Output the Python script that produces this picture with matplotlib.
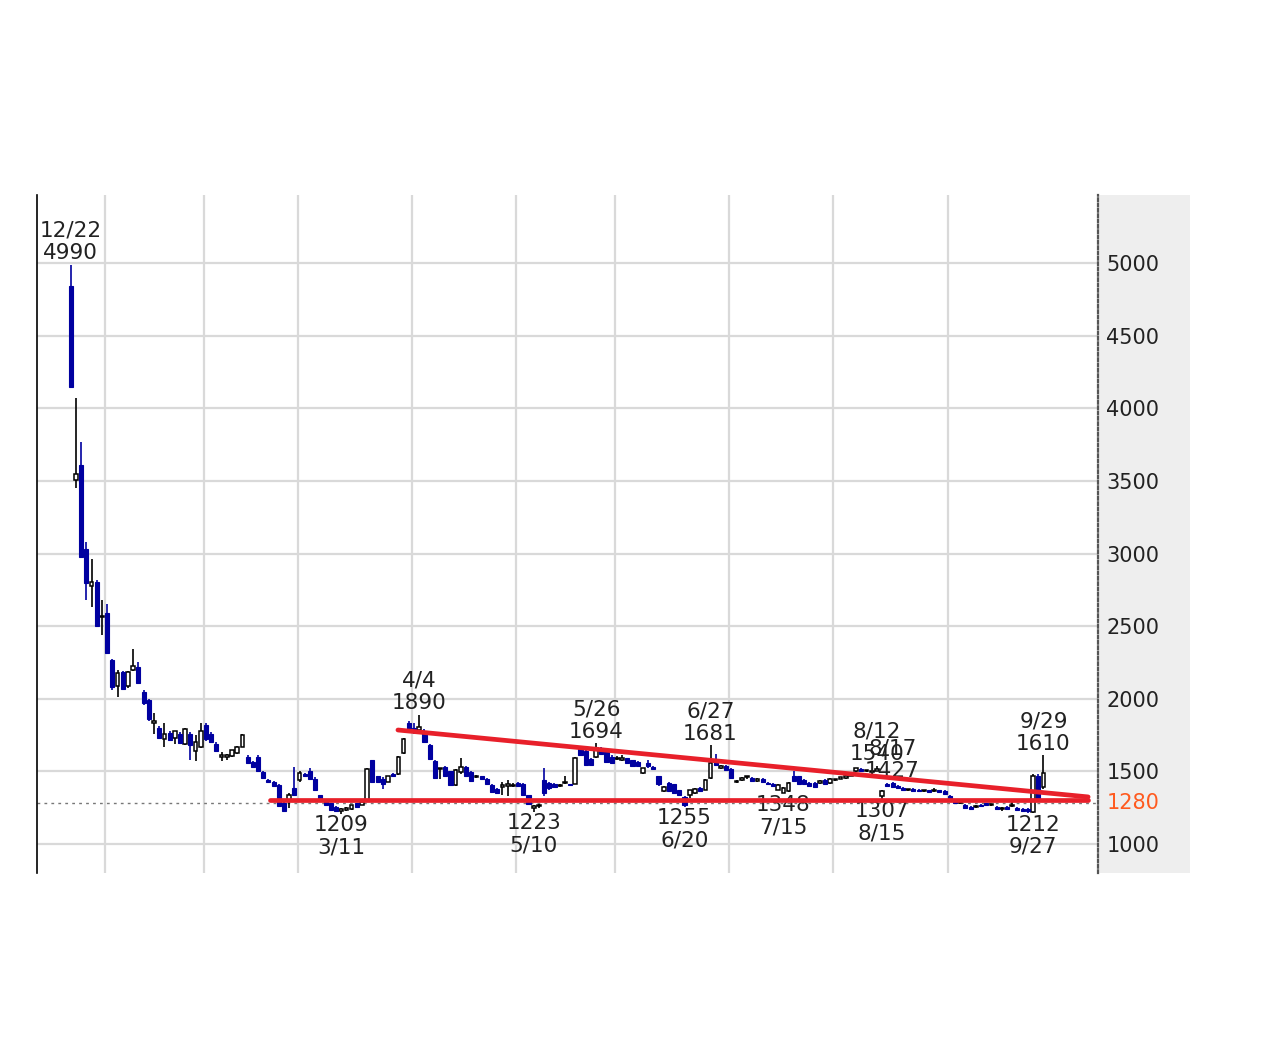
import numpy as np
import matplotlib.pyplot as plt
from matplotlib.patches import Rectangle

# ---------- торговые дни (12/2021 - 9/2022) ----------
months = [12, 1, 2, 3, 4, 5, 6, 7, 8, 9]
month_days = [
    [22, 23, 24, 27, 28, 29, 30],
    [4, 5, 6, 7, 11, 12, 13, 14, 17, 18, 19, 20, 21, 24, 25, 26, 27, 28, 31],
    [1, 2, 3, 4, 7, 8, 9, 10, 14, 15, 16, 17, 18, 21, 22, 24, 25, 28],
    [1, 2, 3, 4, 7, 8, 9, 10, 11, 14, 15, 16, 17, 18, 22, 23, 24, 25, 28, 29, 30, 31],
    [1, 4, 5, 6, 7, 8, 11, 12, 13, 14, 15, 18, 19, 20, 21, 22, 25, 26, 27, 28],
    [2, 6, 9, 10, 11, 12, 13, 16, 17, 18, 19, 20, 23, 24, 25, 26, 27, 30, 31],
    [1, 2, 3, 6, 7, 8, 9, 10, 13, 14, 15, 16, 17, 20, 21, 22, 23, 24, 27, 28, 29, 30],
    [1, 4, 5, 6, 7, 8, 11, 12, 13, 14, 15, 19, 20, 21, 22, 25, 26, 27, 28, 29],
    [1, 2, 3, 4, 5, 8, 9, 10, 12, 15, 16, 17, 18, 19, 22, 23, 24, 25, 26, 29, 30, 31],
    [1, 2, 5, 6, 7, 8, 9, 12, 13, 14, 15, 16, 20, 21, 22, 26, 27, 28, 29],
]
dates = [f"{m}/{d}" for m, ds in zip(months, month_days) for d in ds]

# ---------- OHLC ----------
opens = [
    4840, 3510, 3610, 3030, 2775, 2805, 2560,
    2590, 2270, 2090, 2185, 2085, 2200, 2220, 2050, 1990, 1830, 1800, 1720, 1765, 1730, 1760, 1690, 1760, 1640, 1670,
    1820, 1760, 1690, 1600, 1600, 1605, 1625, 1670, 1600, 1565, 1600, 1495, 1440, 1430, 1405, 1280, 1300, 1385,
    1440, 1485, 1505, 1450, 1335, 1300, 1280, 1255, 1225, 1235, 1240, 1280, 1270, 1300, 1575, 1465, 1450, 1430, 1485, 1480, 1625, 1830,
    1800, 1785, 1780, 1680, 1570, 1515, 1530, 1500, 1405, 1495, 1530, 1495, 1460, 1465, 1450, 1405, 1380, 1395, 1400, 1400,
    1420, 1415, 1335, 1250, 1260, 1440, 1420, 1410, 1400, 1420, 1410, 1415, 1655, 1640, 1585, 1600, 1660, 1640, 1600,
    1585, 1580, 1590, 1575, 1565, 1490, 1555, 1530, 1465, 1365, 1420, 1410, 1370, 1325, 1335, 1350, 1385, 1375, 1455, 1570, 1520, 1540,
    1515, 1425, 1440, 1460, 1455, 1435, 1450, 1420, 1415, 1375, 1350, 1365, 1465, 1465, 1440, 1420, 1420, 1420, 1440, 1420,
    1440, 1450, 1455, 1470, 1500, 1515, 1500, 1495, 1505, 1330, 1410, 1420, 1400, 1385, 1370, 1380, 1375, 1365, 1370, 1365, 1370, 1365,
    1330, 1300, 1280, 1270, 1255, 1255, 1270, 1280, 1265, 1255, 1240, 1255, 1260, 1250, 1240, 1240, 1220, 1470, 1390,
]
highs = [
    4990, 4070, 3770, 3080, 2960, 2815, 2680,
    2650, 2275, 2200, 2190, 2190, 2340, 2250, 2060, 2000, 1900, 1810, 1830, 1780, 1780, 1770, 1800, 1770, 1750, 1830,
    1830, 1770, 1700, 1630, 1620, 1650, 1675, 1755, 1610, 1570, 1610, 1500, 1445, 1435, 1410, 1290, 1350, 1530,
    1500, 1490, 1520, 1460, 1340, 1305, 1285, 1260, 1245, 1255, 1270, 1285, 1295, 1525, 1580, 1470, 1460, 1470, 1490, 1605, 1730, 1845,
    1830, 1890, 1790, 1690, 1575, 1525, 1540, 1505, 1515, 1590, 1535, 1500, 1475, 1470, 1455, 1410, 1385, 1430, 1440, 1420,
    1430, 1420, 1340, 1265, 1275, 1520, 1430, 1420, 1410, 1465, 1415, 1600, 1670, 1645, 1590, 1694, 1665, 1645, 1610,
    1605, 1610, 1595, 1580, 1570, 1525, 1580, 1535, 1470, 1400, 1425, 1415, 1375, 1330, 1375, 1385, 1390, 1445, 1681, 1620, 1545, 1545,
    1520, 1440, 1460, 1470, 1460, 1455, 1455, 1430, 1420, 1410, 1390, 1425, 1500, 1470, 1445, 1425, 1425, 1440, 1445, 1455,
    1450, 1460, 1475, 1485, 1525, 1525, 1510, 1510, 1540, 1370, 1420, 1427, 1405, 1390, 1380, 1385, 1380, 1375, 1375, 1385, 1375, 1370,
    1335, 1305, 1290, 1275, 1260, 1265, 1275, 1285, 1275, 1260, 1255, 1260, 1290, 1255, 1245, 1245, 1480, 1480, 1610,
]
lows = [
    4140, 3450, 2970, 2680, 2635, 2495, 2440,
    2310, 2060, 2010, 2060, 2075, 2190, 2100, 1960, 1850, 1760, 1720, 1670, 1710, 1690, 1690, 1680, 1580, 1570, 1660,
    1710, 1700, 1630, 1570, 1580, 1600, 1620, 1665, 1550, 1525, 1500, 1450, 1425, 1395, 1255, 1220, 1245, 1330,
    1425, 1460, 1440, 1370, 1300, 1265, 1230, 1225, 1209, 1225, 1235, 1250, 1265, 1295, 1420, 1420, 1380, 1425, 1460, 1475, 1620, 1770,
    1760, 1760, 1700, 1580, 1450, 1445, 1460, 1400, 1400, 1485, 1460, 1430, 1455, 1440, 1405, 1350, 1345, 1340, 1330, 1390,
    1395, 1335, 1270, 1223, 1245, 1330, 1370, 1390, 1390, 1410, 1400, 1410, 1610, 1540, 1540, 1595, 1615, 1560, 1555,
    1575, 1570, 1555, 1530, 1530, 1485, 1520, 1510, 1400, 1355, 1360, 1345, 1335, 1255, 1320, 1345, 1360, 1370, 1450, 1540, 1515, 1505,
    1450, 1420, 1435, 1450, 1430, 1430, 1420, 1410, 1395, 1370, 1348, 1360, 1430, 1410, 1405, 1395, 1385, 1415, 1405, 1415,
    1435, 1445, 1450, 1465, 1495, 1500, 1495, 1490, 1500, 1307, 1395, 1390, 1380, 1365, 1365, 1360, 1360, 1360, 1355, 1360, 1355, 1340,
    1290, 1280, 1275, 1240, 1235, 1250, 1255, 1265, 1260, 1235, 1230, 1235, 1255, 1230, 1225, 1215, 1212, 1300, 1380,
]
closes = [
    4150, 3545, 2980, 2800, 2805, 2500, 2570,
    2315, 2080, 2180, 2070, 2185, 2225, 2110, 1970, 1860, 1845, 1730, 1760, 1715, 1775, 1695, 1790, 1680, 1700, 1775,
    1720, 1705, 1640, 1615, 1610, 1645, 1670, 1750, 1555, 1530, 1505, 1455, 1430, 1400, 1260, 1225, 1335, 1340,
    1490, 1465, 1445, 1375, 1305, 1270, 1235, 1230, 1240, 1250, 1265, 1255, 1290, 1515, 1430, 1425, 1410, 1465, 1470, 1600, 1725, 1775,
    1770, 1805, 1705, 1585, 1455, 1520, 1470, 1405, 1510, 1530, 1465, 1435, 1465, 1445, 1410, 1355, 1350, 1405, 1410, 1405,
    1400, 1340, 1275, 1260, 1270, 1350, 1385, 1395, 1405, 1430, 1405, 1595, 1615, 1545, 1545, 1660, 1620, 1565, 1560,
    1595, 1590, 1560, 1535, 1540, 1520, 1540, 1515, 1410, 1395, 1365, 1350, 1340, 1265, 1370, 1380, 1365, 1440, 1560, 1545, 1540, 1510,
    1455, 1435, 1455, 1465, 1435, 1450, 1425, 1415, 1400, 1405, 1385, 1420, 1435, 1415, 1410, 1400, 1390, 1435, 1410, 1450,
    1445, 1455, 1470, 1480, 1520, 1505, 1505, 1500, 1515, 1365, 1400, 1395, 1385, 1370, 1375, 1365, 1365, 1370, 1360, 1370, 1360, 1345,
    1295, 1285, 1285, 1245, 1240, 1260, 1260, 1270, 1270, 1240, 1245, 1240, 1265, 1235, 1230, 1225, 1470, 1310, 1490,
]

# подписи максимумов / минимумов
high_marks = ["12/22", "4/4", "5/26", "6/27", "8/12", "8/17", "9/29"]
low_marks = ["3/11", "5/10", "6/20", "7/15", "8/15", "9/27"]

# линии тренда (индекс торгового дня, цена)
resist_x = [62.9, 195.6]
resist_y = [1785, 1324]
support_x = [38.3, 195.6]
support_y = [1305, 1305]
last_price = 1280

# ---------- рисуем ----------
plt.rcParams['font.family'] = ['DejaVu Sans']
W, H = 1280, 1041
fig = plt.figure(figsize=(W / 100, H / 100), dpi=100)
fig.patch.set_facecolor('white')

# серая панель шкалы справа (под осями)
fig.patches.append(Rectangle((1099 / W, 168 / H), 91 / W, 678 / H,
                             transform=fig.transFigure, facecolor='#eeeeee',
                             edgecolor='none', zorder=-5))

ax = fig.add_axes([37 / W, 168 / H, 1061 / W, 678 / H])
ax.set_zorder(1)
ax.set_facecolor('white')

x = np.arange(len(dates))
o = np.array(opens); h = np.array(highs); l = np.array(lows); c = np.array(closes)
up = c >= o
blue = '#0000a0'

# тени
ax.vlines(x[up], l[up], h[up], color='black', lw=1.2, zorder=3)
ax.vlines(x[~up], l[~up], h[~up], color=blue, lw=1.2, zorder=3)
# тела
body_lo = np.minimum(o, c)
body_h = np.maximum(np.abs(c - o), 8)
ax.bar(x[up], body_h[up], bottom=body_lo[up], width=0.7,
       facecolor='white', edgecolor='black', linewidth=1.1, zorder=4)
ax.bar(x[~up], body_h[~up], bottom=body_lo[~up], width=0.78,
       facecolor=blue, edgecolor=blue, linewidth=0.8, zorder=4)

# сетка по месяцам
month_starts = np.cumsum([len(d) for d in month_days])[:-1]
ax.set_xticks(month_starts - 0.4)
ax.set_xticklabels([])
ax.set_yticks(np.arange(1000, 5001, 500))
ax.grid(True, color='#d9d9d9', lw=1.6, zorder=0)
ax.yaxis.tick_right()
ax.tick_params(axis='both', length=0)
ax.tick_params(axis='y', which='both', right=True, labelright=True, labelleft=False,
               pad=6, labelsize=15, labelcolor='#222222')

ax.set_xlim(-6.5, 197.5)
ax.set_ylim(800, 5470)

for s in ['top', 'bottom']:
    ax.spines[s].set_visible(False)
ax.spines['left'].set_color('black')
ax.spines['left'].set_linewidth(1.2)
ax.spines['right'].set_color('#555555')
ax.spines['right'].set_linestyle((0, (1.2, 1.2)))
ax.spines['right'].set_linewidth(1.6)

# текущая цена
ax.axhline(last_price, color='#777777', lw=1.0, ls=(0, (2, 3)), zorder=2)
ax.annotate(str(last_price), xy=(1, last_price), xycoords=('axes fraction', 'data'),
            xytext=(6, 0), textcoords='offset points', va='center', ha='left',
            fontsize=15, color='#ff5a1f', annotation_clip=False)

# подписи
for d in high_marks:
    i = dates.index(d)
    ax.annotate(f"{d}\n{highs[i]}", xy=(i, highs[i]), xytext=(0, 1),
                textcoords='offset points', ha='center', va='bottom',
                fontsize=15.5, linespacing=1.15, color='#222222', zorder=5)
for d in low_marks:
    i = dates.index(d)
    ax.annotate(f"{lows[i]}\n{d}", xy=(i, lows[i]), xytext=(0, -1),
                textcoords='offset points', ha='center', va='top',
                fontsize=15.5, linespacing=1.15, color='#222222', zorder=5)

# трендовые линии
ax.plot(resist_x, resist_y, color='#e8202a', lw=3.4, solid_capstyle='round', zorder=6)
ax.plot(support_x, support_y, color='#e8202a', lw=3.4, solid_capstyle='round', zorder=6)

fig.savefig('out.png', dpi=100)
